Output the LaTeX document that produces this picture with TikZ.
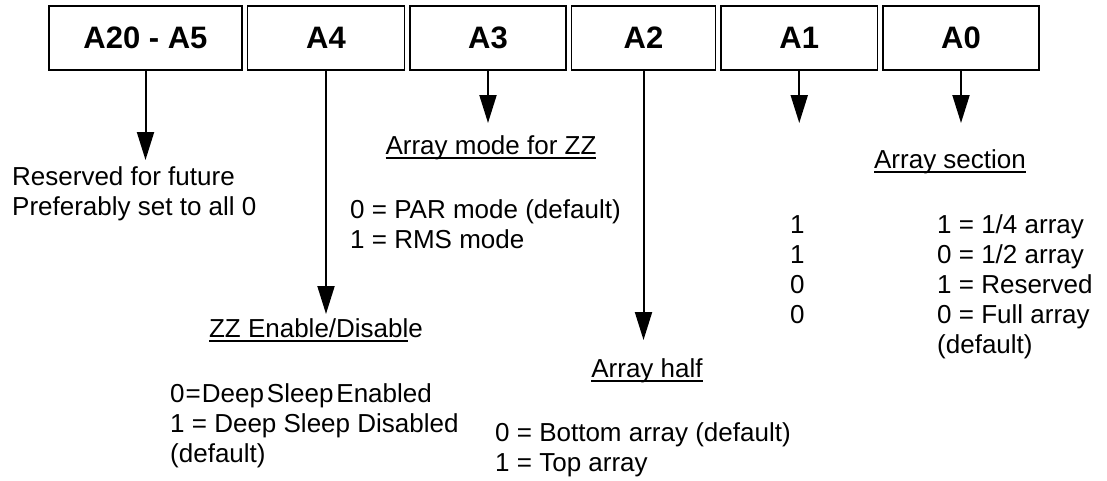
\documentclass[tikz,border=0pt]{standalone}
\usepackage{fontspec}
\setmainfont{Liberation Sans}
\usetikzlibrary{arrows.meta,positioning}
\newcommand{\undl}[1]{\setbox0\hbox{#1}\rlap{\rule[-5pt]{\wd0}{2pt}}\box0}

\begin{document}
\begin{tikzpicture}[x=1pt,y=-1pt,>={Triangle[length=28pt,width=17pt]},node distance=3.9pt,
  bit/.style={draw,line width=1.6pt,minimum height=64pt,inner sep=0pt,font=\fontsize{31}{36}\selectfont\bfseries},
  note/.style={align=left,inner sep=0pt,anchor=base west,font=\fontsize{26}{30}\selectfont},
  head/.style={inner sep=0pt,anchor=base,font=\fontsize{26}{30}\selectfont}]
  \useasboundingbox (0,0) rectangle (1107,480);
  \node[bit,minimum width=193pt] (b1) at (145.5,38) {A20 - A5};
  \node[bit,minimum width=157pt,right=of b1] (b2) {A4};
  \node[bit,minimum width=156pt,right=of b2] (b3) {A3};
  \node[bit,minimum width=144pt,right=of b3] (b4) {A2};
  \node[bit,minimum width=156.5pt,right=of b4] (b5) {A1};
  \node[bit,minimum width=156pt,right=of b5] (b6) {A0};
  % arrow tips (only their height counts)
  \coordinate (e1) at (0,160);
  \coordinate (e2) at (0,314);
  \coordinate (e3) at (0,123);
  \coordinate (e4) at (0,340);
  \coordinate (e5) at (0,123);
  \coordinate (e6) at (0,123);
  \foreach \i in {1,...,6}
    \draw[->,line width=2pt] (b\i) -- (b\i |- e\i);
  % texts (multi-line notes sit on the baseline of their last line)
  \node[note] (n1) at (12,215) {Reserved for future\\Preferably set to all 0};
  \node[head] (t2) at (316,337) {\undl{ZZ Enable/Disabl}e};
  \node[note] (n2) at (170,462) {0\kern1pt=\kern1pt Deep\kern3pt Sleep\kern3pt Enabled\\1 = Deep Sleep Disabled\\(default)};
  \node[head] (t3) at (491,154) {\undl{Array mode for ZZ}};
  \node[note] (n3) at (350,248) {0 = PAR mode (default)\\1 = RMS mode};
  \node[head] (t4) at (647,377) {\undl{Array half}};
  \node[note] (n4) at (495,471) {0 = Bottom array (default)\\1 = Top array};
  \node[note] (n5) at (790,323) {1\\1\\0\\0};
  \node[head] (t6) at (950,168) {\undl{Array section}};
  \node[note] (n6) at (937,353) {1 = 1/4 array\\0 = 1/2 array\\1 = Reserved\\0 = Full array\\(default)};
\end{tikzpicture}
\end{document}
